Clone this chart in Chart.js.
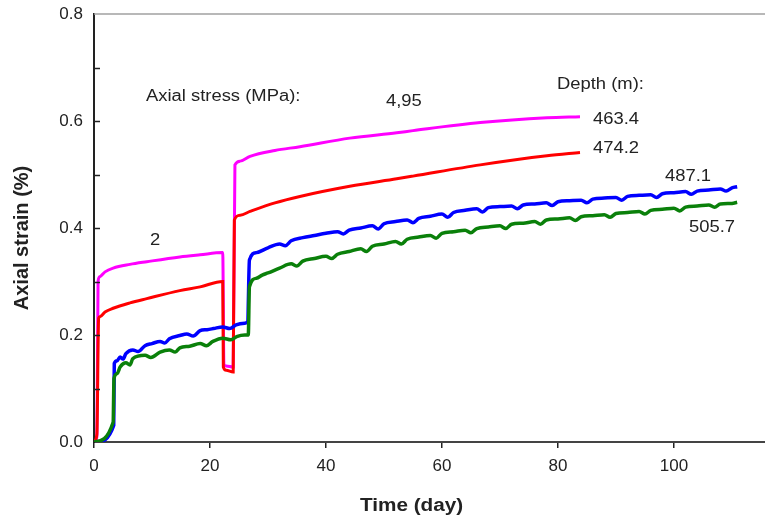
<!DOCTYPE html>
<html>
<head>
<meta charset="utf-8">
<script src="https://cdn.jsdelivr.net/npm/chart.js@4/dist/chart.umd.min.js"></script>
<style>
  body { margin: 0; background: #fff; }
  canvas { display: block; }
</style>
</head>
<body>
<canvas id="myChart" width="765" height="520"></canvas>
<script>
// axial strain vs time, 4 depths
const xTicks = [0, 20, 40, 60, 80, 100];
const yTicks = [0, 0.2, 0.4, 0.6, 0.8];

const magentaDays = [0, 0.5, 0.7, 1.0, 1.9, 3.3, 6.2, 9.1, 14.8, 18.3, 22.2, 22.4, 22.8, 24.0, 24.3, 25.2, 26.9, 31.2, 35.5, 44.1, 52.2, 55.0, 66.6, 78.1, 83.8];
const magentaStrain = [0, 0.01, 0.30, 0.309, 0.318, 0.325, 0.332, 0.337, 0.346, 0.350, 0.354, 0.144, 0.142, 0.140, 0.518, 0.525, 0.534, 0.545, 0.552, 0.568, 0.578, 0.582, 0.597, 0.606, 0.608];

const redDays = [0, 0.5, 0.8, 1.0, 1.9, 3.3, 6.2, 9.1, 14.8, 18.3, 22.2, 22.3, 22.8, 24.0, 24.2, 25.2, 26.9, 31.2, 35.5, 44.1, 52.2, 55.0, 66.6, 78.1, 83.8];
const redStrain = [0, 0.015, 0.231, 0.234, 0.243, 0.250, 0.260, 0.268, 0.283, 0.290, 0.300, 0.140, 0.134, 0.131, 0.415, 0.424, 0.431, 0.447, 0.459, 0.478, 0.492, 0.497, 0.518, 0.535, 0.541];

const blueDays = [0.4, 3.4, 3.5, 4.0, 4.5, 5.0, 5.5, 6.7, 7.6, 8.8, 10.0, 11.4, 12.2, 13.0, 14.8, 16.0, 17.1, 18.3, 19.5, 20.6, 22.2, 23.4, 24.5, 26.0, 26.5, 26.8, 28.0,
  30, 32, 33, 34, 36, 38, 40, 42, 43, 44, 46, 48, 49, 50, 52, 54, 55, 56, 58, 60, 61, 62, 64, 66, 67, 68, 70, 72, 73, 74, 76, 78, 79, 80,
  82, 84, 85, 86, 88, 90, 91, 92, 94, 96, 97, 98, 100, 102, 103, 104, 106, 108, 109, 110, 110.9];
const blueStrain = [0, 0.031, 0.147, 0.152, 0.159, 0.155, 0.165, 0.172, 0.169, 0.180, 0.184, 0.188, 0.185, 0.193, 0.199, 0.202, 0.198, 0.208, 0.210, 0.212, 0.215, 0.212, 0.219, 0.222, 0.225, 0.340, 0.354,
  0.363, 0.370, 0.367, 0.376, 0.382, 0.386, 0.390, 0.393, 0.389, 0.396, 0.400, 0.404, 0.398, 0.408, 0.412, 0.415, 0.410, 0.418, 0.422, 0.426, 0.420, 0.429, 0.433, 0.436, 0.430, 0.438, 0.440, 0.441, 0.436, 0.443, 0.445, 0.447, 0.442, 0.449,
  0.451, 0.452, 0.447, 0.454, 0.456, 0.457, 0.452, 0.459, 0.461, 0.462, 0.457, 0.464, 0.466, 0.468, 0.463, 0.469, 0.471, 0.473, 0.469, 0.475, 0.477];

const greenDays = [0, 3.3, 3.45, 4.0, 4.5, 5.5, 6.2, 6.7, 8.8, 9.8, 11.4, 13.0, 14.0, 14.8, 16.5, 18.3, 19.4, 20.5, 22.2, 23.6, 24.6, 26.0, 26.6, 26.8, 28.0, 29.0,
  30, 32, 34, 35, 36, 38, 40, 41, 42, 44, 46, 47, 48, 50, 52, 53, 54, 56, 58, 59, 60, 62, 64, 65, 66, 68, 70, 71, 72, 74, 76, 77, 78, 80,
  82, 83, 84, 86, 88, 89, 90, 92, 94, 95, 96, 98, 100, 101, 102, 104, 106, 107, 108, 110, 110.9];
const greenStrain = [0, 0.037, 0.119, 0.128, 0.140, 0.148, 0.144, 0.156, 0.162, 0.158, 0.168, 0.172, 0.168, 0.176, 0.179, 0.184, 0.180, 0.188, 0.194, 0.191, 0.197, 0.200, 0.200, 0.290, 0.306, 0.312,
  0.316, 0.325, 0.333, 0.329, 0.338, 0.343, 0.347, 0.343, 0.351, 0.356, 0.361, 0.356, 0.366, 0.370, 0.375, 0.370, 0.379, 0.383, 0.386, 0.381, 0.390, 0.393, 0.396, 0.391, 0.399, 0.402, 0.404, 0.399, 0.407, 0.409, 0.412, 0.407, 0.415, 0.417,
  0.419, 0.414, 0.421, 0.423, 0.425, 0.420, 0.427, 0.429, 0.431, 0.426, 0.433, 0.435, 0.437, 0.432, 0.439, 0.441, 0.443, 0.439, 0.445, 0.446, 0.448];

function toPoints(days, vals){
    return days.map((d, i) => ({x: d, y: vals[i]}));
}

function makeLine(days, vals, color, width){
    return {
        data: toPoints(days, vals),
        borderColor: color,
        borderWidth: width,
        pointRadius: 0,
        cubicInterpolationMode: "monotone",
        fill: false
    };
}

const textColor = "#222";
const font = "'Liberation Sans', Arial, sans-serif";

// extra drawing: inner y ticks, top frame, labels and titles
const extras = {
    id: "extras",
    afterDraw(chart){
        const c = chart.ctx;
        const area = chart.chartArea;
        const y = chart.scales.y;
        c.save();
        c.strokeStyle = "#a0a0a0";
        c.lineWidth = 1.5;
        c.beginPath();
        c.moveTo(area.left, area.top);
        c.lineTo(area.right, area.top);
        c.stroke();

        c.strokeStyle = "#222";
        c.lineWidth = 1.5;
        for (let v = 1; v < 8; v++){
            const py = Math.round(y.getPixelForValue(v / 10)) + 0.5;
            c.beginPath();
            c.moveTo(area.left, py);
            c.lineTo(area.left + 6, py);
            c.stroke();
        }

        c.fillStyle = textColor;
        c.textBaseline = "middle";
        const put = (txt, x, yy, size, bold) => {
            c.save();
            c.font = (bold ? "bold " : "") + size + "px " + font;
            c.translate(x, yy);
            c.scale(1.15, 1);
            c.textAlign = "left";
            c.fillText(txt, 0, 0);
            c.restore();
        };
        put("Axial stress (MPa):", 146, 97, 16, false);
        put("4,95", 386, 102, 16, false);
        put("2", 150, 241, 16, false);
        put("Depth (m):", 557, 85, 16, false);
        put("463.4", 593, 120, 16, false);
        put("474.2", 593, 149, 16, false);
        put("487.1", 665, 177, 16, false);
        put("505.7", 689, 228, 16, false);
        put("Time (day)", 360, 506, 18, true);

        c.save();
        c.font = "bold 20px " + font;
        c.translate(22, 238);
        c.rotate(-Math.PI / 2);
        c.textAlign = "center";
        c.fillText("Axial strain (%)", 0, 0);
        c.restore();
        c.restore();
    }
};

new Chart("myChart", {
    type: "line",
    data: {
        datasets: [
            makeLine(greenDays, greenStrain, "#0a800a", 3.5),
            makeLine(blueDays, blueStrain, "#0000ff", 3.5),
            makeLine(redDays, redStrain, "#ff0000", 3),
            makeLine(magentaDays, magentaStrain, "#ff00ff", 3)
        ]
    },
    options: {
        responsive: false,
        animation: false,
        layout: {padding: {top: 14, right: 0, left: 0, bottom: 0}},
        plugins: {legend: {display: false}, tooltip: {enabled: false}},
        scales: {
            x: {
                type: "linear",
                min: 0,
                max: 115.7,
                afterBuildTicks: s => { s.ticks = xTicks.map(v => ({value: v})); },
                afterFit: s => { s.height = 78; s.paddingLeft = 0; s.paddingRight = 0; },
                grid: {drawOnChartArea: false, drawTicks: true, tickLength: 6, color: "#222", lineWidth: 1.5},
                border: {color: "#444", width: 2},
                ticks: {color: textColor, padding: 8, maxRotation: 0, font: {size: 17, family: font}}
            },
            y: {
                min: 0,
                max: 0.8,
                afterBuildTicks: s => { s.ticks = yTicks.map(v => ({value: v})); },
                afterFit: s => { s.width = 94; s.paddingTop = 0; s.paddingBottom = 0; },
                grid: {drawOnChartArea: false, drawTicks: false},
                border: {color: "#222", width: 2},
                ticks: {color: textColor, padding: 11, font: {size: 17, family: font},
                    callback: v => v.toFixed(1)}
            }
        }
    },
    plugins: [extras]
});
</script>
</body>
</html>
